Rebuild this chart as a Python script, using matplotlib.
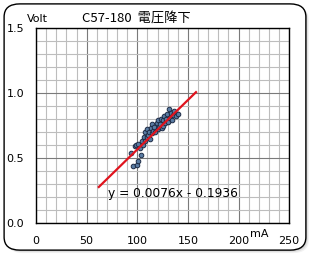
import matplotlib
matplotlib.use("Agg")
import matplotlib.pyplot as plt
from matplotlib.patches import FancyBboxPatch
from matplotlib.ticker import MultipleLocator
import numpy as np

# measured points (mA, Volt)
current_ma = [94, 96, 98, 99, 100, 101, 101, 103, 104, 105, 106, 107, 108, 108,
              110, 110, 111, 112, 113, 114, 115, 115, 116, 117, 118, 119, 120,
              120, 121, 122, 123, 124, 125, 125, 126, 127, 128, 129, 130, 131,
              132, 133, 134, 135, 136, 138, 140]
voltage_v = [0.54, 0.44, 0.59, 0.60, 0.45, 0.48, 0.61, 0.58, 0.52, 0.63, 0.60,
             0.66, 0.63, 0.70, 0.66, 0.72, 0.68, 0.70, 0.65, 0.73, 0.69, 0.76,
             0.71, 0.74, 0.70, 0.77, 0.72, 0.79, 0.74, 0.76, 0.80, 0.73, 0.79,
             0.75, 0.82, 0.77, 0.80, 0.84, 0.78, 0.88, 0.81, 0.85, 0.79, 0.83,
             0.86, 0.82, 0.84]

# trendline
slope = 0.0076
intercept = -0.1936
fit_range = [62, 158]

x_ticks = [0, 50, 100, 150, 200, 250]
y_ticks = [0.0, 0.5, 1.0, 1.5]

fig = plt.figure(figsize=(3.16, 2.60), dpi=100)
fig.patch.set_facecolor("white")

# rounded frame with a soft shadow
fx, fy, fw, fh = 0.013, 0.038, 0.955, 0.947
for k, a in enumerate([0.10, 0.15, 0.22]):
    off = (3 - k) / 316
    sh = FancyBboxPatch((fx + off, fy - off * 1.2), fw, fh,
                        boxstyle="round,pad=0,rounding_size=0.05",
                        transform=fig.transFigure, facecolor="#808080",
                        edgecolor="none", alpha=a, zorder=0)
    fig.patches.append(sh)
frame = FancyBboxPatch((fx, fy), fw, fh,
                       boxstyle="round,pad=0,rounding_size=0.05",
                       transform=fig.transFigure, facecolor="white",
                       edgecolor="black", linewidth=1.0, zorder=1)
fig.patches.append(frame)

ax = fig.add_axes([0.114, 0.142, 0.801, 0.750])
ax.set_zorder(2)
ax.set_facecolor("white")
ax.set_xlim(0, 250)
ax.set_ylim(0, 1.5)

ax.xaxis.set_major_locator(MultipleLocator(50))
ax.xaxis.set_minor_locator(MultipleLocator(10))
ax.yaxis.set_major_locator(MultipleLocator(0.5))
ax.yaxis.set_minor_locator(MultipleLocator(0.1))
ax.grid(which="minor", color="#bdbdbd", linewidth=0.8)
ax.grid(which="major", color="#7a7a7a", linewidth=0.8)
ax.set_axisbelow(True)
ax.tick_params(which="both", length=0)
ax.set_xticks(x_ticks)
ax.set_xticklabels([str(t) for t in x_ticks], fontsize=8)
ax.set_yticks(y_ticks)
ax.set_yticklabels(["%.1f" % t for t in y_ticks], fontsize=8)
ax.tick_params(axis="x", pad=9)
ax.tick_params(axis="y", pad=8.5)
for s in ax.spines.values():
    s.set_color("black")
    s.set_linewidth(1.0)

ax.scatter(current_ma, voltage_v, s=11, facecolor="#5a7ca3",
           edgecolor="#1d2b45", linewidth=0.7, zorder=3)

xf = np.array(fit_range)
ax.plot(xf, slope * xf + intercept, color="#e0141e", linewidth=1.6, zorder=4)

ax.text(71, 0.23, "y = 0.0076x - 0.1936", fontsize=8.8, ha="left",
        va="center", zorder=5)

fig.text(0.085, 0.915, "Volt", fontsize=8)
fig.text(0.43, 0.915, "C57-180  電圧降下", fontsize=9.5, ha="center",
         family=["Noto Sans CJK JP", "DejaVu Sans"])
fig.text(0.79, 0.09, "mA", fontsize=8)

fig.savefig("out.png", dpi=100, facecolor="white")
